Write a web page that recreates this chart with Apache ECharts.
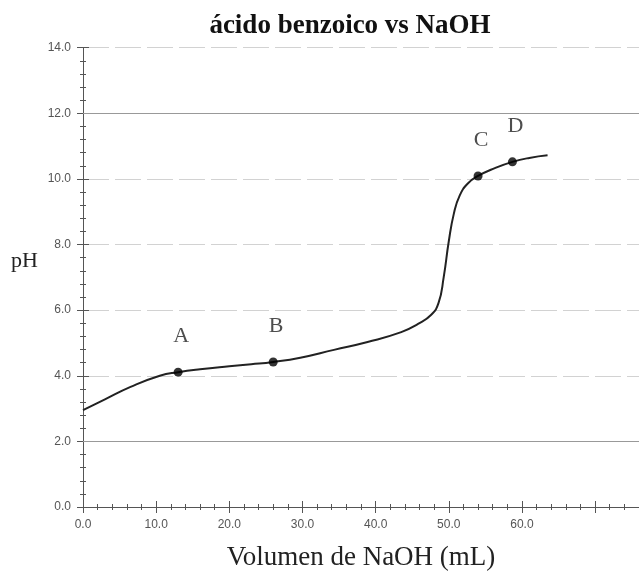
<!DOCTYPE html>
<html>
<head>
<meta charset="utf-8">
<script src="https://cdn.jsdelivr.net/npm/echarts@6/dist/echarts.min.js"></script>
<style>html,body{margin:0;padding:0;background:#fff;}#c{width:639px;height:571px;}</style>
</head>
<body>
<div id="c"></div>
<script>
// Titration curve (Volumen de NaOH mL, pH)
var volumes = [0, 3, 6.5, 10.5, 13, 16, 20, 23, 26, 29.7, 34.3, 38.9, 43.5, 45.8, 47.6, 48.6, 49.3, 50.0, 50.7, 51.5, 52.6, 54, 56.3, 58.7, 61, 63.5];
var phValues = [2.95, 3.28, 3.66, 4.0, 4.11, 4.2, 4.29, 4.35, 4.42, 4.55, 4.79, 5.03, 5.33, 5.58, 5.86, 6.22, 7.0, 8.1, 8.95, 9.5, 9.86, 10.09, 10.33, 10.52, 10.64, 10.72];
// Marked points
var pointNames = ['A', 'B', 'C', 'D'];
var pointVolumes = [13, 26, 54, 58.7];
var pointPH = [4.11, 4.42, 10.09, 10.52];
// Axis tick values with labels
var xTickMax = 60;
var yTicks = [0, 2, 4, 6, 8, 10, 12, 14];
var solidGridValues = [2, 12];

var curve = volumes.map(function (v, i) { return [v, phValues[i]]; });
var points = pointVolumes.map(function (v, i) { return { name: pointNames[i], value: [v, pointPH[i]] }; });

var chart = echarts.init(document.getElementById('c'), null, { renderer: 'canvas' });
var axisColor = '#555';
var labelStyle = { color: '#555', fontFamily: 'Liberation Sans, Arial, sans-serif', fontSize: 12 };
chart.setOption({
  animation: false,
  backgroundColor: '#fff',
  title: {
    text: 'ácido benzoico vs NaOH',
    left: 345, top: 8, textAlign: 'center',
    textStyle: { fontFamily: 'Liberation Serif, Times New Roman, serif', fontWeight: 'bold', fontSize: 27, color: '#111' }
  },
  graphic: [{
    type: 'text', left: 11, top: 250,
    style: { text: 'pH', fontFamily: 'Liberation Serif, Times New Roman, serif', fontSize: 22, fill: '#222' }
  }],
  grid: { left: 83, right: 0, top: 47.7, bottom: 64, outerBoundsMode: 'none', containLabel: false },
  xAxis: [{
    type: 'value', min: 0, max: 76, interval: 10, position: 'bottom',
    name: 'Volumen de NaOH (mL)', nameLocation: 'middle', nameGap: 37,
    nameTextStyle: { fontFamily: 'Liberation Serif, Times New Roman, serif', fontSize: 27, color: '#222' },
    axisLine: { lineStyle: { color: axisColor, width: 1 } },
    axisTick: { show: true, length: 6, lineStyle: { color: axisColor } },
    minorTick: { show: true, splitNumber: 5, length: 3, lineStyle: { color: axisColor } },
    axisLabel: Object.assign({ margin: 12, formatter: function (v) { return v <= xTickMax ? v.toFixed(1) : ''; } }, labelStyle),
    splitLine: { show: false }
  }, {
    type: 'value', min: 0, max: 76, interval: 10, position: 'bottom', offset: 0,
    axisLine: { show: false },
    axisTick: { show: true, inside: true, length: 6, lineStyle: { color: axisColor } },
    minorTick: { show: true, splitNumber: 5, length: 3, lineStyle: { color: axisColor } },
    axisLabel: { show: false }, splitLine: { show: false }
  }],
  yAxis: [{
    type: 'value', min: yTicks[0], max: yTicks[yTicks.length - 1], interval: 2,
    axisLine: { show: true, lineStyle: { color: axisColor, width: 1 } },
    axisTick: { show: true, length: 6, lineStyle: { color: axisColor } },
    minorTick: { show: true, splitNumber: 5, length: 3, lineStyle: { color: axisColor } },
    axisLabel: Object.assign({ margin: 12, formatter: function (v) { return v.toFixed(1); } }, labelStyle),
    splitLine: { show: true, lineStyle: { color: '#d2d2d2', type: [26, 6], width: 1.2 } }
  }, {
    type: 'value', min: yTicks[0], max: yTicks[yTicks.length - 1], interval: 2, position: 'left', offset: 0,
    axisLine: { show: false },
    axisTick: { show: true, inside: true, length: 6, lineStyle: { color: axisColor } },
    minorTick: { show: true, splitNumber: 5, length: 3, lineStyle: { color: axisColor } },
    axisLabel: { show: false }, splitLine: { show: false }
  }],
  series: [{
    type: 'line', data: curve, xAxisIndex: 0, yAxisIndex: 0,
    smooth: 0.5, showSymbol: false,
    lineStyle: { color: '#222', width: 2 },
    markLine: {
      silent: true, symbol: 'none', label: { show: false },
      lineStyle: { color: '#999', type: 'solid', width: 1.2 },
      data: solidGridValues.map(function (v) { return { yAxis: v }; })
    },
    z: 3
  }, {
    type: 'scatter', data: points, xAxisIndex: 0, yAxisIndex: 0,
    symbol: 'circle', symbolSize: 9, itemStyle: { color: '#000' },
    label: {
      show: true, position: 'top', distance: 18, offset: [3, -2],
      formatter: function (p) { return p.name; },
      fontFamily: 'Liberation Serif, Times New Roman, serif', fontSize: 22, color: '#222'
    },
    z: 4
  }]
});
</script>
</body>
</html>
